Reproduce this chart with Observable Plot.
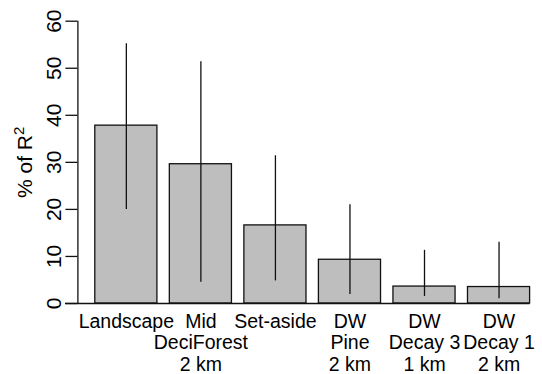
<!DOCTYPE html>
<html>
<head>
<meta charset="utf-8">
<script src="https://cdn.jsdelivr.net/npm/d3@7"></script>
<script src="https://cdn.jsdelivr.net/npm/@observablehq/plot@0.6"></script>
<style>
  html, body { margin: 0; padding: 0; background: #fff; }
</style>
</head>
<body>
<div id="chart"></div>
<script>
const categories = ["Landscape", "Mid\nDeciForest\n2 km", "Set-aside", "DW\nPine\n2 km", "DW\nDecay 3\n1 km", "DW\nDecay 1\n2 km"];
const values = [37.8, 29.6, 16.6, 9.3, 3.6, 3.5];
const lower = [20.0, 4.5, 4.8, 1.9, 1.5, 1.0];
const upper = [55.2, 51.4, 31.4, 21.0, 11.3, 13.0];
const yTicks = [0, 10, 20, 30, 40, 50, 60];
const yLabelBase = "% of R";
const yLabelSup = "2";

// R barplot layout: width 1, space 0.2
const data = categories.map((c, i) => ({
  label: c,
  value: values[i],
  lo: lower[i],
  hi: upper[i],
  x1: 0.2 + 1.2 * i,
  x2: 1.2 + 1.2 * i,
  xc: 0.7 + 1.2 * i
}));

const font = "'Liberation Sans', Arial, Helvetica, sans-serif";

const chart = Plot.plot({
  width: 542,
  height: 374,
  marginLeft: 77.4,
  marginRight: 12.4,
  marginTop: 20.7,
  marginBottom: 71,
  style: { fontFamily: font, fontSize: "19px", color: "#000", background: "#fff" },
  x: { type: "linear", domain: [-0.08, 7.2], axis: null },
  y: { domain: [0, 60], axis: null },
  marks: [
    Plot.rect(data, { x1: "x1", x2: "x2", y1: 0, y2: "value", fill: "#BEBEBE", stroke: "#111", strokeWidth: 1.3 }),
    Plot.ruleY([0], { x1: -0.28, x2: 7.2, stroke: "#111", strokeWidth: 1.3 }),
    Plot.ruleX(data, { x: "xc", y1: "lo", y2: "hi", stroke: "#111", strokeWidth: 1.3 }),
    Plot.ruleX([-0.08], { y1: 0, y2: 60, stroke: "#111", strokeWidth: 1.3 }),
    Plot.axisY({ ticks: yTicks, tickSize: 12, tickRotate: -90, tickPadding: 5, label: null, stroke: "#111", strokeWidth: 1.3, fontSize: 21 }),
    Plot.text(data, { x: "xc", y: 0, text: "label", lineAnchor: "top", dy: 9, lineHeight: 1.1, fontSize: 19.5, fill: "#000" }),
    Plot.text([yLabelBase + yLabelSup], { frameAnchor: "left", textAnchor: "middle", rotate: -90, lineAnchor: "bottom", dx: -46, fontSize: 21, fill: "#000", className: "ylab" })
  ]
});

// render the "2" as a real superscript
d3.select(chart).selectAll(".ylab text").each(function () {
  const t = d3.select(this);
  t.text(null);
  t.append("tspan").text(yLabelBase);
  t.append("tspan").attr("dy", "-0.5em").attr("font-size", "15").text(yLabelSup);
});

document.getElementById("chart").appendChild(chart);
</script>
</body>
</html>
